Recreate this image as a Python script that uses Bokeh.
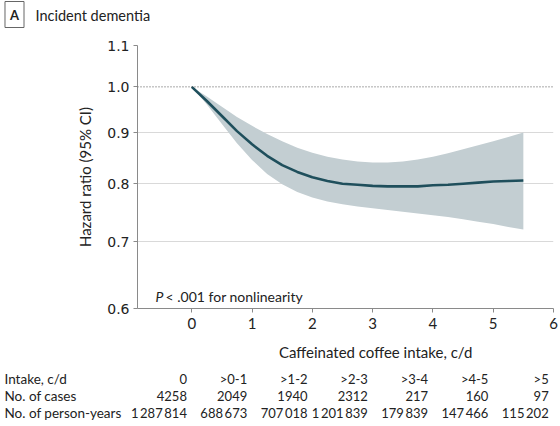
from bokeh.plotting import figure
from bokeh.layouts import column
from bokeh.models import Range1d, FixedTicker, NumeralTickFormatter, Span, Label
from bokeh.core.properties import value
from bokeh.embed import file_html
from bokeh.resources import INLINE

# ---- data ----
coffee = [0, 0.25, 0.5, 0.75, 1.0, 1.25, 1.5, 1.75, 2.0, 2.25, 2.5, 2.75, 3.0,
          3.25, 3.5, 3.75, 4.0, 4.25, 4.5, 4.75, 5.0, 5.25, 5.5]
hr = [1.0, 0.968, 0.935, 0.903, 0.876, 0.853, 0.835, 0.822, 0.812, 0.805, 0.800,
      0.798, 0.796, 0.795, 0.795, 0.795, 0.797, 0.798, 0.800, 0.802, 0.804, 0.805, 0.806]
hr_upper = [1.0, 0.978, 0.955, 0.933, 0.914, 0.897, 0.882, 0.869, 0.859, 0.851, 0.846,
            0.842, 0.840, 0.840, 0.842, 0.846, 0.851, 0.858, 0.866, 0.874, 0.882, 0.891, 0.900]
hr_lower = [1.0, 0.960, 0.918, 0.878, 0.845, 0.818, 0.799, 0.785, 0.775, 0.768, 0.763,
            0.759, 0.756, 0.753, 0.750, 0.747, 0.744, 0.741, 0.737, 0.733, 0.729, 0.724, 0.720]
ref_hr = 1.0
y_ticks = [0.6, 0.7, 0.8, 0.9, 1.0, 1.1]
x_ticks = [0, 1, 2, 3, 4, 5, 6]

intake = ["0", ">0-1", ">1-2", ">2-3", ">3-4", ">4-5", ">5"]
cases = [4258, 2049, 1940, 2312, 217, 160, 97]
person_years = [1287814, 688673, 707018, 1201839, 179839, 147466, 115202]

FONT = "Lato"
LINE = "#1f4f5c"
BAND = "#c3ced2"
TEXT = "#222222"

W = 560
TITLE_H, MAIN_H, TABLE_H = 33, 300, 93
FL, FR = 137, 7            # frame left / right borders (px)
X0, X1 = -0.9, 6.0
UNIT = (W - FL - FR) / (X1 - X0)   # px per c/d


def bare(fig):
    fig.outline_line_color = None
    fig.xaxis.visible = False
    fig.yaxis.visible = False
    fig.grid.visible = False
    return fig


NOB = dict(min_border=0, min_border_left=0, min_border_right=0,
           min_border_top=0, min_border_bottom=0)

# ---------- title strip ----------
t = bare(figure(width=W, height=TITLE_H, output_backend="svg", toolbar_location=None,
                x_range=Range1d(0, W), y_range=Range1d(TITLE_H, 0),
                frame_align=False, **NOB))
t.add_layout(Label(x=14, y=TITLE_H - 14, x_units="screen", y_units="screen", text="A",
                   text_font=FONT, text_font_style="bold", text_font_size="13px",
                   text_baseline="middle", text_align="center", text_color=TEXT,
                   border_line_color="#666666", border_line_width=1,
                   background_fill_color="white", padding=5))
t.add_layout(Label(x=35, y=TITLE_H - 15, x_units="screen", y_units="screen",
                   text="Incident dementia", text_font=FONT, text_font_size="14.5px",
                   text_baseline="middle", text_color=TEXT))

# ---------- main chart ----------
p = figure(width=W, height=MAIN_H, output_backend="svg", toolbar_location=None,
           y_axis_type="log", x_range=Range1d(X0, X1), y_range=Range1d(0.6, 1.1),
           min_border_left=FL, min_border_right=FR, min_border_top=12,
           min_border_bottom=25, frame_align=False)
p.outline_line_color = None

p.varea(x=coffee, y1=hr_lower, y2=hr_upper, fill_color=BAND, fill_alpha=1.0)
p.line(x=coffee, y=hr, line_color=LINE, line_width=2.6)

p.xgrid.grid_line_color = None
p.ygrid.ticker = FixedTicker(ticks=[v for v in y_ticks if v != ref_hr])
p.ygrid.grid_line_color = "#d9d9d9"
p.ygrid.level = "underlay"
p.add_layout(Span(location=ref_hr, dimension="width", line_color="#555555",
                  line_dash="1 2", line_width=1))

for ax in (p.xaxis[0], p.yaxis[0]):
    ax.axis_line_color = "#8a8a8a"
    ax.major_tick_line_color = "#8a8a8a"
    ax.major_tick_in = 0
    ax.major_tick_out = 4
    ax.minor_tick_line_color = None
    ax.major_label_text_color = TEXT
p.xaxis.ticker = FixedTicker(ticks=x_ticks)
p.xaxis.major_label_text_font = FONT
p.xaxis.major_label_text_font_size = "15px"
p.xaxis.major_label_standoff = 5
p.yaxis.ticker = FixedTicker(ticks=y_ticks)
p.yaxis.formatter = NumeralTickFormatter(format="0.0")
p.yaxis.major_label_text_font = "DejaVu Sans"
p.yaxis.major_label_text_font_size = "14px"
p.yaxis.major_label_standoff = 4
p.yaxis.axis_label = "Hazard ratio (95% CI)"
p.yaxis.axis_label_text_font = FONT
p.yaxis.axis_label_text_font_style = "normal"
p.yaxis.axis_label_text_font_size = "15px"
p.yaxis.axis_label_text_color = TEXT
p.yaxis.axis_label_standoff = 10

p.add_layout(Label(x=-0.6, y=0.617, text="P", text_font=FONT, text_font_style="italic",
                   text_font_size="14px", text_baseline="middle", text_color=TEXT))
p.add_layout(Label(x=-0.6, y=0.617, x_offset=10, text="< .001 for nonlinearity",
                   text_font=FONT, text_font_size="14px", text_baseline="middle",
                   text_color=TEXT))

# ---------- x-axis title and table (same x scale as the chart) ----------
tx0 = X0 - FL / UNIT
tx1 = X1 + FR / UNIT
tb = bare(figure(width=W, height=TABLE_H, output_backend="svg", toolbar_location=None,
                 x_range=Range1d(tx0, tx1), y_range=Range1d(TABLE_H, 0),
                 frame_align=False, **NOB))

tb.text(x=[3.05], y=[18], text=["Caffeinated coffee intake, c/d"],
        text_font=value(FONT), text_font_size=value("15px"), text_color=TEXT,
        text_align="center", text_baseline="middle")


def fmt(n):
    return f"{n:,}".replace(",", "\u2009")


row_names = ["Intake, c/d", "No. of cases", "No. of person-years"]
row_y = [45, 62, 79]
rows = [intake, [str(c) for c in cases], [fmt(v) for v in person_years]]
label_x = tx0 + 4 / UNIT
for name, yy, vals in zip(row_names, row_y, rows):
    tb.text(x=[label_x], y=[yy], text=[name], text_font=value(FONT),
            text_font_size=value("13.5px"), text_color=TEXT, text_align="left",
            text_baseline="middle")
    tb.text(x=[i - 0.08 for i in range(len(vals))], y=[yy] * len(vals), text=vals,
            text_font=value(FONT), text_font_size=value("13px"), text_color=TEXT,
            text_align="right", text_baseline="middle")

layout = column(t, p, tb, spacing=0)
open("out.html", "w").write(file_html(layout, INLINE))
